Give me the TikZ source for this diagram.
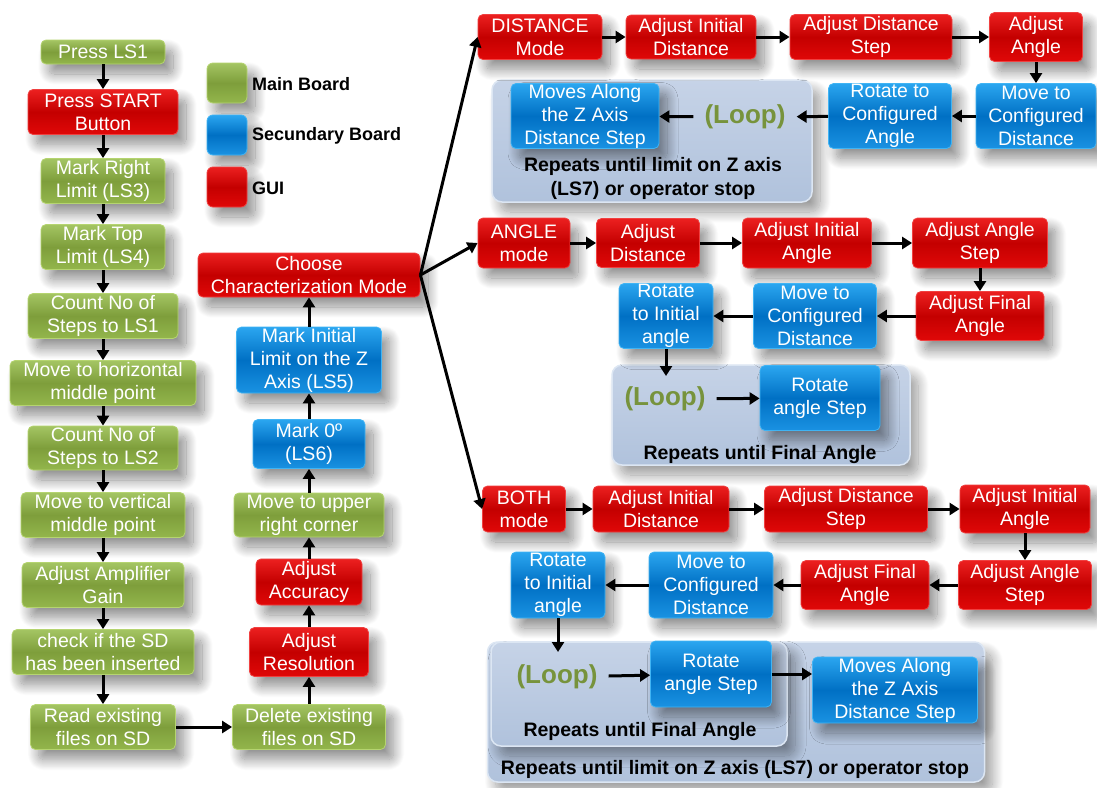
\documentclass[tikz,border=0pt]{standalone}
\usepackage{fontspec}
\setmainfont{Liberation Sans}
\usetikzlibrary{arrows.meta,shadows.blur}

\definecolor{gtop}{HTML}{A4C563}
\definecolor{gmid}{HTML}{7E9E3B}
\definecolor{gbot}{HTML}{93B64C}
\definecolor{gedge}{HTML}{B5D470}
\definecolor{rtop}{HTML}{EC2020}
\definecolor{rmid}{HTML}{C40000}
\definecolor{rbot}{HTML}{E00808}
\definecolor{redge}{HTML}{F04040}
\definecolor{btop}{HTML}{2BA6F0}
\definecolor{bmid}{HTML}{0070C4}
\definecolor{bbot}{HTML}{1A92E2}
\definecolor{bedge}{HTML}{40B4F4}
\definecolor{lbtop}{HTML}{C6D3E7}
\definecolor{lbbot}{HTML}{B0C2DC}
\definecolor{lbedge}{HTML}{DCE6F3}
\definecolor{loopgreen}{HTML}{77933C}

\tikzset{
  base/.style={rounded corners=5pt, align=center, text=white, inner sep=0pt,
    font=\fontsize{19.5}{23}\selectfont, line width=0.8pt,
    blur shadow={shadow xshift=8pt, shadow yshift=-10pt, shadow blur radius=11pt, shadow blur steps=24, shadow opacity=45}},
  gbox/.style={base, draw=gedge, top color=gtop, bottom color=gbot, middle color=gmid},
  rbox/.style={base, draw=redge, top color=rtop, bottom color=rbot, middle color=rmid},
  bbox/.style={base, draw=bedge, top color=btop, bottom color=bbot, middle color=bmid},
  wh/.style 2 args={minimum width=#1, minimum height=#2},
  arr/.style={line width=3pt, -{Triangle[length=10pt,width=12pt]}},
  loopbg/.style={rounded corners=10pt, draw=lbedge, line width=1.5pt, top color=lbtop, bottom color=lbbot,
    blur shadow={shadow xshift=8pt, shadow yshift=-10pt, shadow blur radius=11pt, shadow blur steps=24, shadow opacity=40}},
  looptxt/.style={text=loopgreen, font=\fontsize{26}{28}\selectfont\bfseries, inner ysep=0pt, inner xsep=11pt},
  rep/.style={font=\fontsize{19.5}{24}\selectfont\bfseries, align=center, inner sep=0pt, text=black},
  legtxt/.style={font=\fontsize{18}{22}\selectfont\bfseries, inner sep=0pt, text=black, anchor=west},
  legsq/.style={minimum width=40pt, minimum height=40pt, rounded corners=6pt},
}

\begin{document}
\begin{tikzpicture}[x=1pt,y=-1pt]
\useasboundingbox (0,0) rectangle (1097,787);

% legend
\node[gbox, legsq] (lg) at (227,83) {};
\node[bbox, legsq] (lb) at (227,135) {};
\node[rbox, legsq] (lr) at (227,187) {};
\node[legtxt] (lgt) at (252,84) {Main Board};
\node[legtxt] (lbt) at (252,136) {Secundary Board};
\node[legtxt] (lrt) at (252,188) {GUI};

% left column
\node[gbox, wh={124pt}{24pt}] (p1) at (103,52) {Press LS1};
\node[rbox, wh={150pt}{45pt}] (p2) at (103,112) {Press START\\Button};
\node[gbox, wh={124pt}{45pt}] (p3) at (103,181) {Mark Right\\Limit (LS3)};
\node[gbox, wh={124pt}{45pt}] (p4) at (103,247) {Mark Top\\Limit (LS4)};
\node[gbox, wh={150pt}{45pt}] (p5) at (103,316) {Count No of\\Steps to LS1};
\node[gbox, wh={186pt}{45pt}] (p6) at (103,383) {Move to horizontal\\middle point};
\node[gbox, wh={150pt}{44pt}] (p7) at (103,448) {Count No of\\Steps to LS2};
\node[gbox, wh={164pt}{45pt}] (p8) at (103,515) {Move to vertical\\middle point};
\node[gbox, wh={162pt}{45pt}] (p9) at (103,585) {Adjust Amplifier\\Gain};
\node[gbox, wh={182pt}{45pt}] (p10) at (103,652) {check if the SD\\has been inserted};
\node[gbox, wh={145pt}{45pt}] (p11) at (103,727) {Read existing\\files on SD};

% middle column
\node[gbox, wh={153pt}{45pt}] (m1) at (309,727) {Delete existing\\files on SD};
\node[rbox, wh={119pt}{49pt}] (m2) at (309,652) {Adjust\\Resolution};
\node[rbox, wh={106pt}{46pt}] (m3) at (309,582) {Adjust\\Accuracy};
\node[gbox, wh={150pt}{44pt}] (m4) at (309,515) {Move to upper\\right corner};
\node[bbox, wh={112pt}{49pt}] (m5) at (309,444) {Mark 0º\\(LS6)};
\node[bbox, wh={145pt}{66pt}] (m6) at (309,360) {Mark Initial\\Limit on the Z\\Axis (LS5)};
\node[rbox, wh={222pt}{44pt}] (m7) at (309,275) {Choose\\Characterization Mode};

\foreach \a/\b in {p1/p2,p2/p3,p3/p4,p4/p5,p5/p6,p6/p7,p7/p8,p8/p9,p9/p10,p10/p11}
  \draw[arr] (\a.south) -- (\b.north);
\draw[arr] (p11.east) -- (m1.west);
\foreach \a/\b in {m1/m2,m2/m3,m3/m4,m4/m5,m5/m6,m6/m7}
  \draw[arr] (\a.north) -- (\b.south);

% DISTANCE branch
\node[loopbg, minimum width=320pt, minimum height=122pt] (dbg) at (652,141) {};
\node[rbox, wh={124pt}{45pt}] (d1) at (540,37) {DISTANCE\\Mode};
\node[rbox, wh={130pt}{44pt}] (d2) at (691,37) {Adjust Initial\\Distance};
\node[rbox, wh={162pt}{45pt}] (d3) at (871,37) {Adjust Distance\\Step};
\node[rbox, wh={93pt}{49pt}] (d4) at (1036,37) {Adjust\\Angle};
\node[bbox, wh={120pt}{65pt}] (d5) at (1036,116) {Move to\\Configured\\Distance};
\node[bbox, wh={123pt}{65pt}] (d6) at (890,116) {Rotate to\\Configured\\Angle};
\node[looptxt] (dl) at (745,117) {(Loop)};
\node[bbox, wh={148pt}{65pt}] (d7) at (585,116) {Moves Along\\the Z Axis\\Distance Step};
\node[rep] (dr) at (653,178) {Repeats until limit on Z axis\\(LS7) or operator stop};
\draw[arr] (d1) -- (d2);
\draw[arr] (d2) -- (d3);
\draw[arr] (d3) -- (d4);
\draw[arr] (d4) -- (d5);
\draw[arr] (d5) -- (d6);
\draw[arr] (d6) -- (dl);
\draw[arr] (dl) -- (d7);

% ANGLE branch
\node[loopbg, minimum width=298pt, minimum height=100pt] (abg) at (761,415) {};
\node[rbox, wh={92pt}{50pt}] (a1) at (524,243) {ANGLE\\mode};
\node[rbox, wh={103pt}{49pt}] (a2) at (648,243) {Adjust\\Distance};
\node[rbox, wh={129pt}{50pt}] (a3) at (807,243) {Adjust Initial\\Angle};
\node[rbox, wh={135pt}{50pt}] (a4) at (980,243) {Adjust Angle\\Step};
\node[rbox, wh={128pt}{49pt}] (a5) at (980,316) {Adjust Final\\Angle};
\node[bbox, wh={123pt}{65pt}] (a6) at (815,316) {Move to\\Configured\\Distance};
\node[bbox, wh={94pt}{65pt}] (a7) at (666,316) {Rotate\\to Initial\\angle};
\node[looptxt] (al) at (665,399) {(Loop)};
\node[bbox, wh={120pt}{65pt}] (a8) at (820,398) {Rotate\\angle Step};
\node[rep] (ar) at (760,454) {Repeats until Final Angle};
\coordinate (ain) at (666,376);
\draw[arr] (a1) -- (a2);
\draw[arr] (a2) -- (a3);
\draw[arr] (a3) -- (a4);
\draw[arr] (a4) -- (a5);
\draw[arr] (a5) -- (a6);
\draw[arr] (a6) -- (a7);
\draw[arr] (a7.south) -- (ain);
\draw[arr] (al) -- (a8);

% BOTH branch
\node[loopbg, minimum width=497pt, minimum height=140pt] (bbg) at (736,712) {};
\node[loopbg, minimum width=296pt, minimum height=104pt] (bbg2) at (639,694) {};
\node[rbox, wh={83pt}{46pt}] (b1) at (524,509) {BOTH\\mode};
\node[rbox, wh={136pt}{46pt}] (b2) at (661,509) {Adjust Initial\\Distance};
\node[rbox, wh={163pt}{46pt}] (b3) at (846,509) {Adjust Distance\\Step};
\node[rbox, wh={130pt}{48pt}] (b4) at (1025,509) {Adjust Initial\\Angle};
\node[rbox, wh={133pt}{49pt}] (b5) at (1025,585) {Adjust Angle\\Step};
\node[rbox, wh={128pt}{49pt}] (b6) at (865,585) {Adjust Final\\Angle};
\node[bbox, wh={124pt}{66pt}] (b7) at (711,585) {Move to\\Configured\\Distance};
\node[bbox, wh={94pt}{66pt}] (b8) at (558,585) {Rotate\\to Initial\\angle};
\node[looptxt] (bl) at (557,677) {(Loop)};
\node[bbox, wh={121pt}{66pt}] (b9) at (711,674) {Rotate\\angle Step};
\node[bbox, wh={165pt}{66pt}] (b10) at (895,690) {Moves Along\\the Z Axis\\Distance Step};
\node[rep] (br) at (640,731) {Repeats until Final Angle};
\node[rep] (br2) at (735,769) {Repeats until limit on Z axis (LS7) or operator stop};
\coordinate (bin) at (558,652);
\draw[arr] (b1) -- (b2);
\draw[arr] (b2) -- (b3);
\draw[arr] (b3) -- (b4);
\draw[arr] (b4) -- (b5);
\draw[arr] (b5) -- (b6);
\draw[arr] (b6) -- (b7);
\draw[arr] (b7) -- (b8);
\draw[arr] (b8.south) -- (bin);
\draw[arr] (bl) -- (b9);
\draw[arr] (b9.east) -- (b10.west |- b9.east);

% mode selection
\draw[arr] (m7.east) -- (d1.west);
\draw[arr] (m7.east) -- (a1.west);
\draw[arr] (m7.east) -- (b1.west);
\end{tikzpicture}
\end{document}
